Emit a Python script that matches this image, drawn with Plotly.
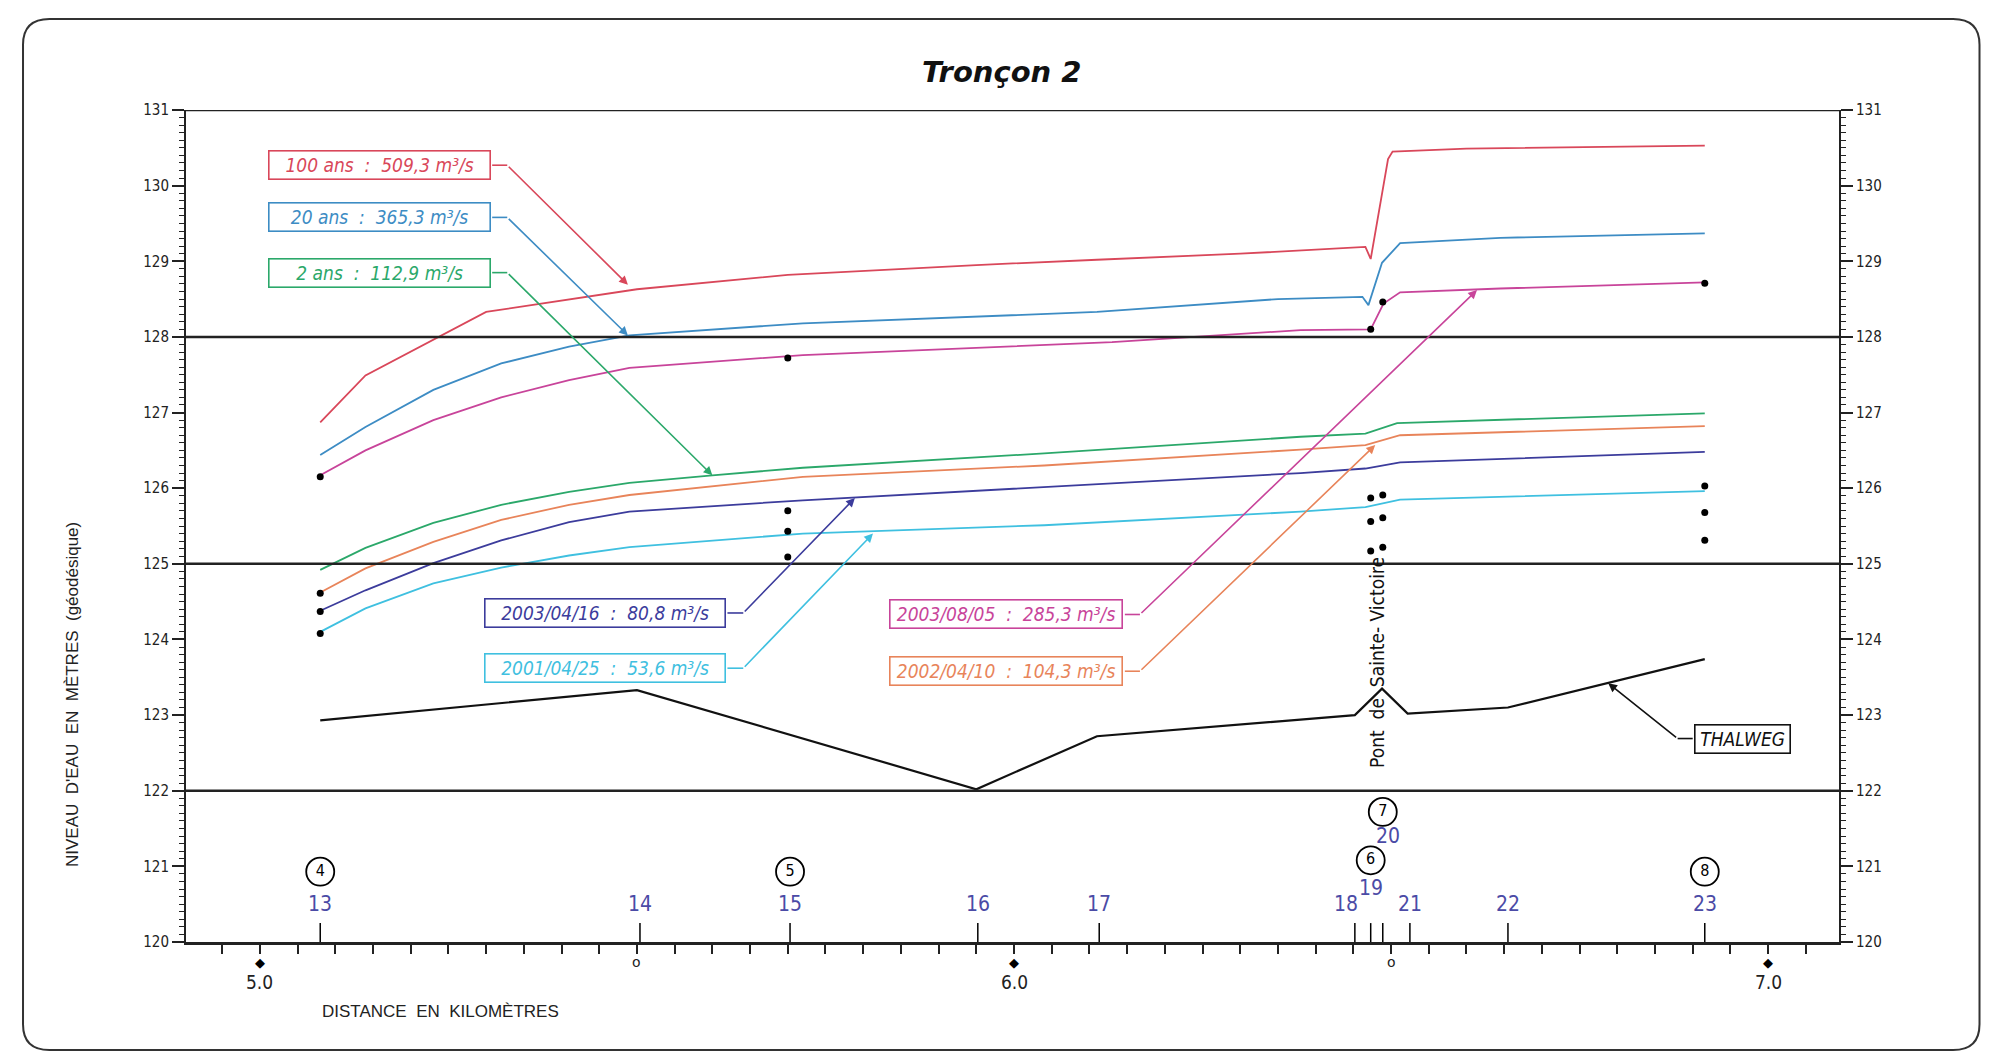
import plotly.graph_objects as go

km_100ans = [5.08, 5.14, 5.30, 5.50, 5.70, 5.95, 6.11, 6.30, 6.466, 6.473, 6.496, 6.502, 6.60, 6.916]
z_100ans = [126.87, 127.49, 128.33, 128.63, 128.82, 128.95, 129.02, 129.10, 129.19, 129.03, 130.35, 130.45, 130.49, 130.53]

km_20ans = [5.08, 5.14, 5.23, 5.32, 5.41, 5.49, 5.72, 5.95, 6.11, 6.35, 6.462, 6.47, 6.488, 6.512, 6.645, 6.916]
z_20ans = [126.44, 126.81, 127.30, 127.65, 127.87, 128.02, 128.18, 128.27, 128.33, 128.50, 128.53, 128.42, 128.98, 129.24, 129.31, 129.37]

km_2ans = [5.08, 5.14, 5.23, 5.32, 5.41, 5.49, 5.60, 5.72, 6.04, 6.38, 6.466, 6.508, 6.916]
z_2ans = [124.92, 125.21, 125.54, 125.78, 125.95, 126.07, 126.17, 126.27, 126.46, 126.68, 126.72, 126.86, 126.99]

km_20030805 = [5.08, 5.14, 5.23, 5.32, 5.41, 5.49, 5.72, 6.13, 6.38, 6.466, 6.473, 6.49, 6.512, 6.645, 6.916]
z_20030805 = [126.17, 126.50, 126.90, 127.20, 127.43, 127.59, 127.76, 127.93, 128.09, 128.10, 128.10, 128.44, 128.59, 128.64, 128.72]

km_obs = [5.08, 5.14, 5.23, 5.32, 5.41, 5.49, 5.72, 6.04, 6.38, 6.466, 6.512, 6.916]
z_20020410 = [124.62, 124.94, 125.29, 125.58, 125.78, 125.91, 126.15, 126.30, 126.51, 126.57, 126.70, 126.82]
z_20030416 = [124.38, 124.65, 125.01, 125.31, 125.55, 125.69, 125.84, 126.01, 126.20, 126.26, 126.34, 126.48]
z_20010425 = [124.10, 124.41, 124.74, 124.95, 125.11, 125.22, 125.40, 125.51, 125.69, 125.75, 125.85, 125.96]

km_thalweg = [5.08, 5.50, 5.95, 6.11, 6.452, 6.488, 6.522, 6.655, 6.916]
z_thalweg = [122.93, 123.33, 122.02, 122.72, 123.00, 123.35, 123.02, 123.10, 123.74]

# niveaux observés (points noirs)
pts_km = [5.08, 5.08, 5.08, 5.08, 5.70, 5.70, 5.70, 5.70,
          6.473, 6.489, 6.473, 6.489, 6.473, 6.489, 6.473, 6.489,
          6.916, 6.916, 6.916, 6.916]
pts_z = [126.15, 124.61, 124.37, 124.08, 127.72, 125.70, 125.43, 125.09,
         128.10, 128.46, 125.87, 125.91, 125.56, 125.61, 125.17, 125.22,
         128.71, 126.03, 125.68, 125.31]

# sections en travers
section_km = [5.080, 5.504, 5.703, 5.952, 6.113, 6.452, 6.473, 6.489, 6.525, 6.655, 6.916]
section_no = ["13", "14", "15", "16", "17", "18", "19", "20", "21", "22", "23"]
section_lbl_z = [120.50, 120.50, 120.50, 120.50, 120.50, 120.50, 120.72, 121.40, 120.50, 120.50, 120.50]

station_no = ["4", "5", "6", "7", "8"]
station_km = [5.080, 5.703, 6.473, 6.489, 6.916]
station_z = [120.93, 120.93, 121.08, 121.72, 120.93]

km_major = [5.0, 6.0, 7.0]
km_major_lbl = ["5.0", "6.0", "7.0"]
km_half = [5.5, 6.5]

ref_levels = [122, 125, 128, 131]

C100 = "#d9475a"
C20 = "#3d8cc4"
C2 = "#2ba86a"
C0805 = "#c8449a"
C0410 = "#e8845a"
C0416 = "#3c3c9c"
C0425 = "#3fc0e0"
CSEC = "#4b4ba6"
NARROW = "Liberation Sans Narrow, DejaVu Sans Condensed, Liberation Sans, sans-serif"

XR = [4.902, 7.094]
YR = [120, 131]

def ypaper(z):
    return (z - YR[0]) / (YR[1] - YR[0])

fig = go.Figure()

for xs, ys, col in [(km_100ans, z_100ans, C100), (km_20ans, z_20ans, C20),
                    (km_20030805, z_20030805, C0805), (km_2ans, z_2ans, C2),
                    (km_obs, z_20020410, C0410), (km_obs, z_20030416, C0416),
                    (km_obs, z_20010425, C0425)]:
    fig.add_trace(go.Scatter(x=xs, y=ys, mode="lines", line=dict(color=col, width=1.8),
                             showlegend=False, hoverinfo="skip"))

fig.add_trace(go.Scatter(x=km_thalweg, y=z_thalweg, mode="lines", yaxis="y2",
                         line=dict(color="#111111", width=2.2), showlegend=False))

fig.add_trace(go.Scatter(x=pts_km, y=pts_z, mode="markers",
                         marker=dict(color="black", size=7), showlegend=False))

# traits des sections
tx, ty = [], []
for k in section_km:
    tx += [k, k, None]
    ty += [YR[0], YR[0] + 0.25, None]
fig.add_trace(go.Scatter(x=tx, y=ty, mode="lines", line=dict(color="black", width=1.5),
                         showlegend=False, hoverinfo="skip"))

fig.add_trace(go.Scatter(x=station_km, y=station_z, mode="markers+text", text=station_no,
                         textposition="middle center",
                         marker=dict(symbol="circle-open", size=28, color="black", line=dict(width=1.8)),
                         textfont=dict(family=NARROW, size=16, color="black"),
                         showlegend=False, hoverinfo="skip"))

shapes = []
for lv in ref_levels:
    shapes.append(dict(type="line", xref="paper", yref="y", x0=0, x1=1, y0=lv, y1=lv,
                       line=dict(color="#222", width=2.5)))

# cadre arrondi
x0, x1, y0, y1 = -0.0986, 1.0850, -0.1298, 1.1094
rx, ry = 0.016, 0.031
path = (f"M {x0+rx},{y1} L {x1-rx},{y1} Q {x1},{y1} {x1},{y1-ry} L {x1},{y0+ry} "
        f"Q {x1},{y0} {x1-rx},{y0} L {x0+rx},{y0} Q {x0},{y0} {x0},{y0+ry} "
        f"L {x0},{y1-ry} Q {x0},{y1} {x0+rx},{y1} Z")
shapes.append(dict(type="path", xref="paper", yref="paper", path=path,
                   line=dict(color="#333", width=2)))

annotations = []

# numéros des sections
shift = {"18": -9, "20": 5}
for k, no, z in zip(section_km, section_no, section_lbl_z):
    annotations.append(dict(x=k, y=z, xref="x", yref="y", text=no, showarrow=False,
                            xanchor="center", yanchor="middle", xshift=shift.get(no, 0),
                            font=dict(family=NARROW, size=21, color=CSEC)))

# repères kilométriques sous l'axe
for k, lbl in zip(km_major, km_major_lbl):
    annotations.append(dict(x=k, y=ypaper(YR[0] - 0.27), xref="x", yref="paper", text="◆",
                            yanchor="middle", showarrow=False,
                            font=dict(family="DejaVu Sans", size=13, color="black")))
    annotations.append(dict(x=k, y=ypaper(YR[0] - 0.53), xref="x", yref="paper", text=lbl,
                            yanchor="middle", showarrow=False,
                            font=dict(family=NARROW, size=19, color="#222")))
for k in km_half:
    annotations.append(dict(x=k, y=ypaper(YR[0] - 0.26), xref="x", yref="paper", text="o",
                            yanchor="middle", showarrow=False,
                            font=dict(family="DejaVu Sans", size=14, color="#222")))

# étiquettes encadrées avec flèches: (texte, couleur, x centre, y centre, largeur px, x amorce, x départ flèche, pointe)
labels = [
    ("100 ans  :  509,3 m³/s", C100, 5.158, 130.27, 226, 5.308, 5.328, (5.488, 128.69)),
    ("20 ans  :  365,3 m³/s", C20, 5.158, 129.58, 226, 5.308, 5.328, (5.488, 128.02)),
    ("2 ans  :  112,9 m³/s", C2, 5.158, 128.85, 226, 5.308, 5.328, (5.600, 126.17)),
    ("2003/04/16  :  80,8 m³/s", C0416, 5.458, 124.35, 245, 5.620, 5.641, (5.789, 125.87)),
    ("2001/04/25  :  53,6 m³/s", C0425, 5.458, 123.62, 245, 5.620, 5.641, (5.813, 125.40)),
    ("2003/08/05  :  285,3 m³/s", C0805, 5.990, 124.33, 237, 6.147, 6.167, (6.614, 128.62)),
    ("2002/04/10  :  104,3 m³/s", C0410, 5.990, 123.58, 237, 6.147, 6.167, (6.479, 126.57)),
    ("THALWEG", "#111", 6.966, 122.69, 100, 6.900, 6.880, (6.788, 123.42)),
]
for txt, col, cx, cy, w, xa, xb, tip in labels:
    annotations.append(dict(x=cx, y=cy, xref="x", yref="y", text=txt, showarrow=False,
                            font=dict(family=NARROW, size=19, color=col, style="italic"),
                            bordercolor=col, borderwidth=1.6, bgcolor="rgba(255,255,255,0)",
                            width=w - 8, height=25, borderpad=1))
    shapes.append(dict(type="line", xref="x", yref="y", x0=xa, x1=xb, y0=cy, y1=cy,
                       line=dict(color=col, width=1.6)))
    annotations.append(dict(x=tip[0], y=tip[1], xref="x", yref="y", ax=xb, ay=cy,
                            axref="x", ayref="y", text="", showarrow=True,
                            arrowhead=2, arrowsize=1.1, arrowwidth=1.6, arrowcolor=col,
                            standoff=0, startstandoff=0))

annotations += [
    dict(x=0.4936, y=1.0457, xref="paper", yref="paper", yanchor="middle",
         text="<b><i>Tronçon 2</i></b>",
         showarrow=False, font=dict(family="DejaVu Sans", size=29, color="#111")),
    dict(x=-0.069, y=0.298, xref="paper", yref="paper", textangle=-90,
         xanchor="center", yanchor="middle",
         text="NIVEAU  D'EAU  EN  MÈTRES  (géodésique)", showarrow=False,
         font=dict(family="Liberation Sans, Arial, sans-serif", size=17, color="#222")),
    dict(x=0.081, y=-0.084, xref="paper", yref="paper", xanchor="left", yanchor="middle",
         text="DISTANCE  EN  KILOMÈTRES", showarrow=False,
         font=dict(family="Liberation Sans, Arial, sans-serif", size=17, color="#222")),
    dict(x=6.481, y=123.70, xref="x", yref="y", textangle=-90,
         xanchor="center", yanchor="middle",
         text="Pont  de  Sainte- Victoire", showarrow=False,
         font=dict(family=NARROW, size=19, color="#111")),
]

yax = dict(range=YR, dtick=1, ticks="outside", ticklen=12, tickwidth=1.5, tickcolor="#222",
           showline=True, linewidth=2, linecolor="#222", showgrid=False, zeroline=False,
           minor=dict(ticks="outside", ticklen=5, dtick=0.1, tickcolor="#222", tickwidth=1.2),
           tickfont=dict(family=NARROW, size=15, color="#222"))

fig.update_layout(
    width=1973, height=1044,
    margin=dict(l=178, r=142, t=102, b=110),
    plot_bgcolor="white", paper_bgcolor="white",
    xaxis=dict(range=XR, showticklabels=False, ticks="outside", tick0=5.0, dtick=0.05,
               ticklen=9, tickwidth=1.5, tickcolor="#222", showline=True, linewidth=2.5,
               linecolor="#222", showgrid=False, zeroline=False),
    yaxis=yax,
    yaxis2=dict(yax, overlaying="y", side="right"),
    shapes=shapes,
    annotations=annotations,
)

fig.write_html("out.html")
